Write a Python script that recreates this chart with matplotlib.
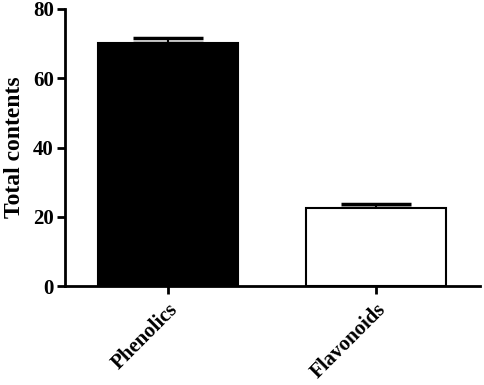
import numpy as np
import matplotlib.pyplot as plt

plt.rcParams['font.family'] = ['Liberation Serif', 'DejaVu Serif']
plt.rcParams['font.weight'] = 'bold'

categories = ['Phenolics', 'Flavonoids']
means = [70.2, 22.4]
errors = [1.4, 1.2]
colors = ['black', 'white']

fig = plt.figure(figsize=(4.84, 3.85), dpi=100)
ax = fig.add_axes([65 / 484, 1 - 286 / 385, 415 / 484, 277 / 385])

x = np.arange(len(categories))
ax.bar(x, means, width=0.67, color=colors, edgecolor='black', linewidth=1.5, zorder=2)
ax.errorbar(x, means, yerr=[np.zeros(len(errors)), errors], fmt='none',
            ecolor='black', elinewidth=1.5, capsize=25, capthick=2.5, zorder=1)

ax.set_xlim(-0.495, 1.5)
ax.set_ylim(0, 80)
ax.set_yticks([0, 20, 40, 60, 80])
ax.set_xticks(x)
ax.set_xticklabels(categories, rotation=45, ha='right', rotation_mode='anchor')
ax.set_ylabel('Total contents', fontsize=17, fontweight='bold', labelpad=6)

for s in ['top', 'right']:
    ax.spines[s].set_visible(False)
for s in ['left', 'bottom']:
    ax.spines[s].set_linewidth(2)
ax.tick_params(axis='both', width=2, length=6, labelsize=15)
ax.tick_params(axis='y', pad=2)
for lab in ax.get_xticklabels() + ax.get_yticklabels():
    lab.set_fontweight('bold')

fig.savefig('out.png', dpi=100)
